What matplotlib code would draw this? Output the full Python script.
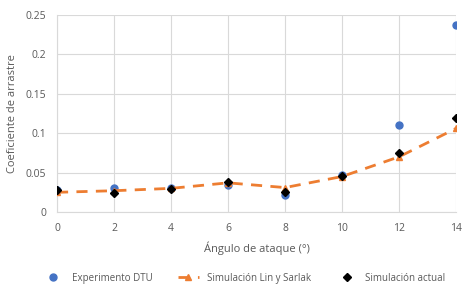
import matplotlib
matplotlib.use("Agg")
import matplotlib.pyplot as plt

angles = [0, 2, 4, 6, 8, 10, 12, 14]
dtu = [0.028, 0.030, 0.031, 0.034, 0.022, 0.047, 0.111, 0.237]
lin_sarlak = [0.025, 0.027, 0.030, 0.037, 0.031, 0.045, 0.070, 0.106]
actual = [0.028, 0.024, 0.029, 0.038, 0.026, 0.046, 0.075, 0.119]
xticks = [0, 2, 4, 6, 8, 10, 12, 14]
yticks = [0, 0.05, 0.1, 0.15, 0.2, 0.25]
ytick_labels = ["0", "0.05", "0.1", "0.15", "0.2", "0.25"]

plt.rcParams['font.family'] = ['Open Sans', 'DejaVu Sans']
txt = '#595959'

fig = plt.figure(figsize=(4.69, 2.88), dpi=100)
ax = fig.add_axes([57/469, 1-212/288, (456-57)/469, (212-15)/288])

ax.plot(angles, dtu, 'o', color='#4472C4', ms=5, label='Experimento DTU', zorder=3)
ax.plot(angles, lin_sarlak, '--', color='#ED7D31', lw=2, marker='^', ms=5,
        dashes=(4, 3), label='Simulación Lin y Sarlak', zorder=4)
ax.plot(angles, actual, 'D', color='black', ms=4.5, label='Simulación actual', zorder=5)

ax.set_xlim(0, 14)
ax.set_ylim(0, 0.25)
ax.set_xticks(xticks)
ax.set_yticks(yticks)
ax.set_yticklabels(ytick_labels)
ax.grid(True, color='#D9D9D9', lw=0.8)
ax.set_axisbelow(True)
for s in ['top', 'right']:
    ax.spines[s].set_visible(False)
for s in ['left', 'bottom']:
    ax.spines[s].set_color('#D9D9D9')
ax.tick_params(length=0, labelsize=7.5, colors=txt, pad=8)
ax.set_xlabel('Ángulo de ataque (°)', fontsize=8, color=txt, labelpad=5)
ax.set_ylabel('Coeficiente de arrastre', fontsize=8, color=txt, labelpad=5)

fig.legend(loc='lower center', bbox_to_anchor=(0.52, -0.015), ncol=3, frameon=False,
           fontsize=7, labelcolor=txt, handlelength=2.2, columnspacing=2.6)

fig.savefig('out.png', dpi=100)
